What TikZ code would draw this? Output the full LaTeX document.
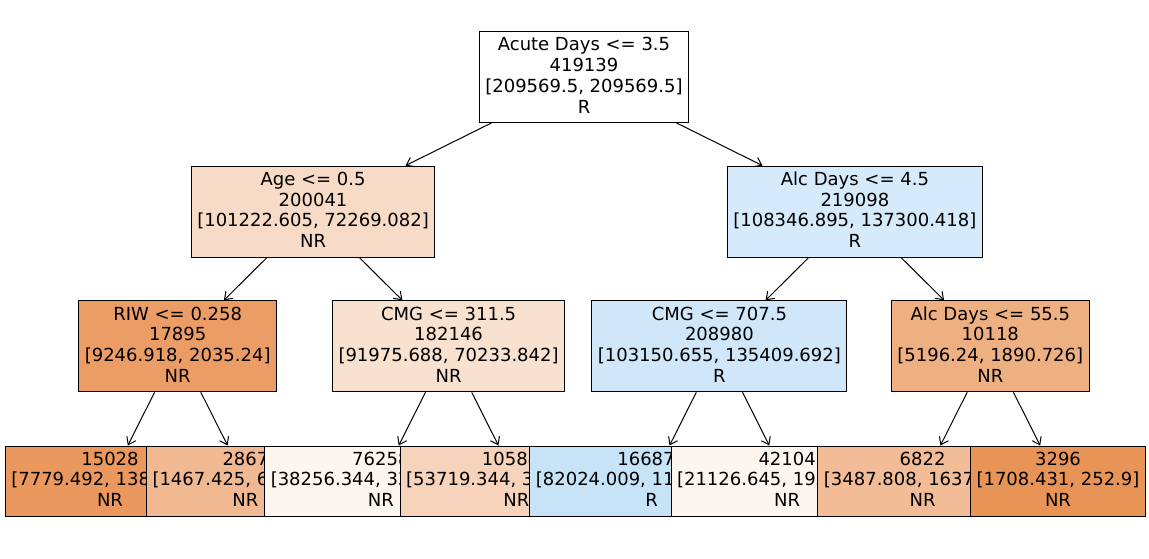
\documentclass[tikz,border=0pt]{standalone}
\usepackage{fontspec}
\setmainfont{DejaVu Sans}
\usetikzlibrary{arrows.meta}
\definecolor{nrbase}{RGB}{229,129,57}
\definecolor{rbase}{RGB}{57,157,229}
\tikzset{
  treebox/.style={draw, line width=1pt, align=center, inner xsep=6pt, inner ysep=0pt,
    font=\fontsize{18pt}{20.7pt}\selectfont},
  splitbox/.style={treebox, minimum height=91pt},
  leafbox/.style={treebox, minimum height=70pt},
  edge/.style={line width=1pt, -{Straight Barb[length=7pt,width=10pt]}}
}
\def\lp{\vphantom{lp}}
\begin{document}
\begin{tikzpicture}[x=1pt,y=-1pt]
  \useasboundingbox (0,0) rectangle (1149,559);

  \node[splitbox, fill=white] (root) at (584,77)
    {Acute Days <= 3.5\lp\\419139\\{[209569.5, 209569.5]}\\R\lp};
  \node[splitbox, fill=nrbase!28.6!white] (age) at (313.1,211.6)
    {Age <= 0.5\lp\\200041\\{[101222.605, 72269.082]}\\NR\lp};
  \node[splitbox, fill=rbase!21!white] (alc) at (854.9,211.6)
    {Alc Days <= 4.5\lp\\219098\\{[108346.895, 137300.418]}\\R\lp};
  \node[splitbox, fill=nrbase!78!white] (riw) at (177.7,346.3)
    {RIW <= 0.258\lp\\17895\\{[9246.918, 2035.24]}\\NR\lp};
  \node[splitbox, fill=nrbase!23.6!white] (cmga) at (448.6,346.3)
    {CMG <= 311.5\lp\\182146\\{[91975.688, 70233.842]}\\NR\lp};
  \node[splitbox, fill=rbase!24!white] (cmgb) at (719.4,346.3)
    {CMG <= 707.5\lp\\208980\\{[103150.655, 135409.692]}\\R\lp};
  \node[splitbox, fill=nrbase!63.6!white] (alcb) at (990.3,346.3)
    {Alc Days <= 55.5\lp\\10118\\{[5196.24, 1890.726]}\\NR\lp};

  % leaves, left to right, each one laid over the one before
  \foreach \nm/\k/\cnt/\val/\cls/\clr in {
     la/0/15028/{[7779.492, 138\phantom{2.508]}}/NR/nrbase!82!white,
     lb/1/2867/{[1467.425, 6\phantom{53.000]}}/NR/nrbase!55.5!white,
     lc/2/76258/{[38256.344, 33\phantom{000.000]}}/NR/nrbase!8!white,
     ld/3/{10588\phantom{8}}/{[53719.344, 3\phantom{0000.000]}}/NR/nrbase!35!white,
     le/4/{16687\phantom{6}}/{[82024.009, 11\phantom{6000.000]}}/R/rbase!29!white,
     lf/5/42104/{[21126.645, 193\phantom{00.000]}}/NR/nrbase!8!white,
     lg/6/6822/{[3487.808, 1637\phantom{.826]}}/NR/nrbase!53!white,
     lh/7/3296/{[1708.431, 252.9]}/NR/nrbase!85!white} {
    \node[leafbox, fill=\clr] (\nm) at (110+135.43*\k,481) {\cnt\lp\\{\val}\\\cls\lp};
  }

  \draw[edge] (root) -- (age);
  \draw[edge] (root) -- (alc);
  \draw[edge] (age) -- (riw);
  \draw[edge] (age) -- (cmga);
  \draw[edge] (alc) -- (cmgb);
  \draw[edge] (alc) -- (alcb);
  \draw[edge] (riw) -- (la);
  \draw[edge] (riw) -- (lb);
  \draw[edge] (cmga) -- (lc);
  \draw[edge] (cmga) -- (ld);
  \draw[edge] (cmgb) -- (le);
  \draw[edge] (cmgb) -- (lf);
  \draw[edge] (alcb) -- (lg);
  \draw[edge] (alcb) -- (lh);
\end{tikzpicture}
\end{document}
